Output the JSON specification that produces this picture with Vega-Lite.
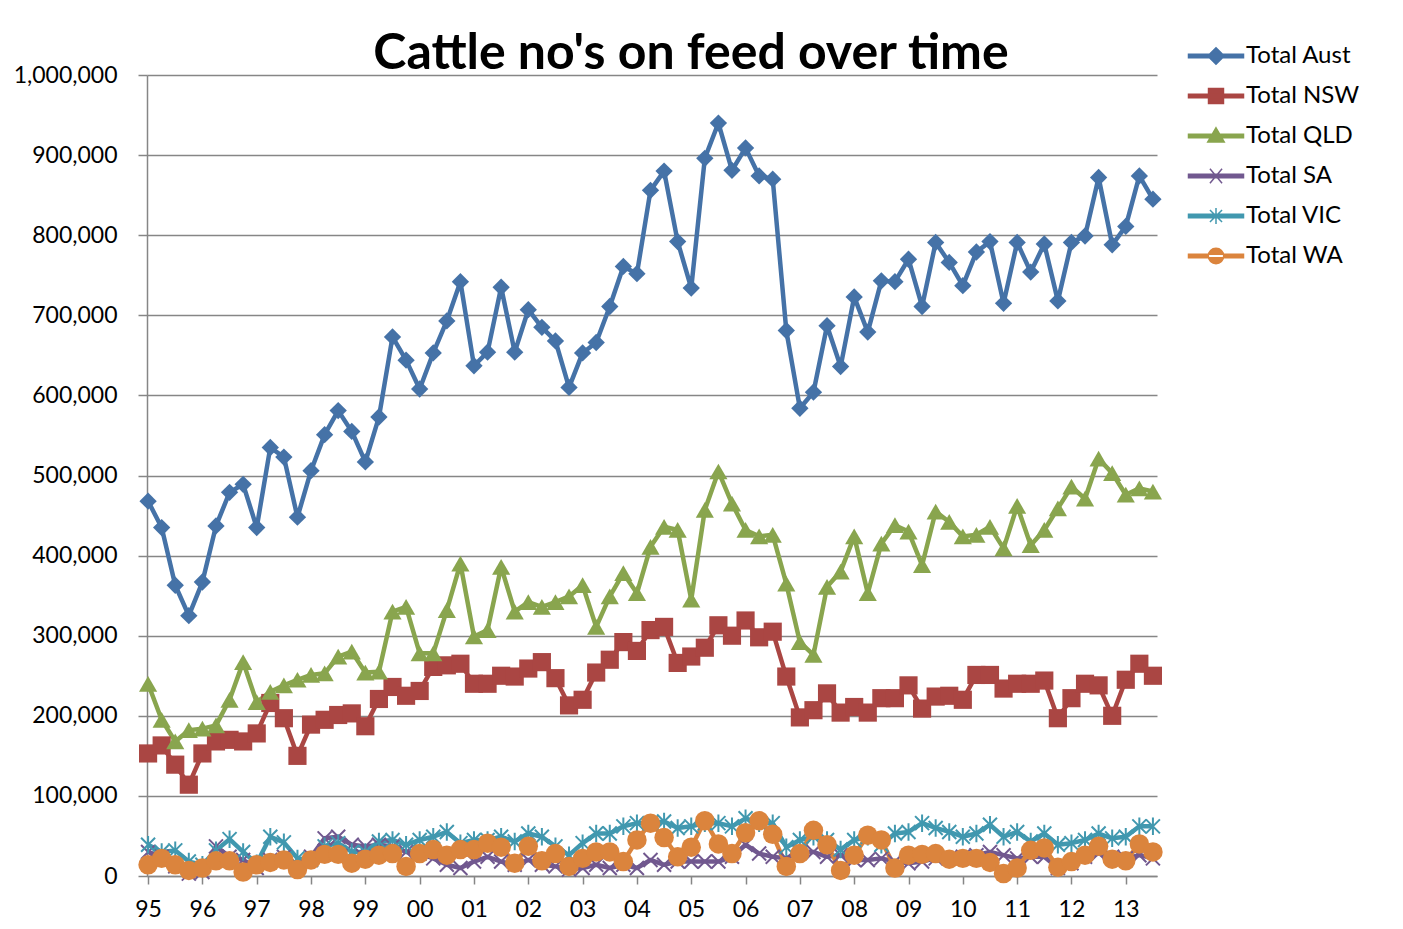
{
  "$schema": "https://vega.github.io/schema/vega-lite/v6.json",
  "width": 1010,
  "height": 801,
  "autosize": {"type": "none"},
  "padding": {"left": 147, "top": 75, "right": 246, "bottom": 53},
  "background": "white",
  "title": {"text": "Cattle no's on feed over time", "font": "Lato", "fontSize": 50, "fontWeight": "bold", "color": "black", "anchor": "middle", "frame": "group", "dx": 39, "dy": 77, "baseline": "alphabetic", "offset": 2},
  "data": {"values": [
    {"t": 1995, "Total Aust": 468000, "Total NSW": 153000, "Total QLD": 240000, "Total SA": 30000, "Total VIC": 39000, "Total WA": 14000},
    {"t": 1995.25, "Total Aust": 435000, "Total NSW": 163000, "Total QLD": 195000, "Total SA": 24000, "Total VIC": 30000, "Total WA": 22000},
    {"t": 1995.5, "Total Aust": 363000, "Total NSW": 139000, "Total QLD": 168000, "Total SA": 12000, "Total VIC": 32000, "Total WA": 14000},
    {"t": 1995.75, "Total Aust": 325000, "Total NSW": 114000, "Total QLD": 182000, "Total SA": 3000, "Total VIC": 18000, "Total WA": 7000},
    {"t": 1996, "Total Aust": 367000, "Total NSW": 153000, "Total QLD": 184000, "Total SA": 5000, "Total VIC": 14000, "Total WA": 10000},
    {"t": 1996.25, "Total Aust": 437000, "Total NSW": 168000, "Total QLD": 188000, "Total SA": 37000, "Total VIC": 32000, "Total WA": 19000},
    {"t": 1996.5, "Total Aust": 479000, "Total NSW": 170000, "Total QLD": 220000, "Total SA": 24000, "Total VIC": 46000, "Total WA": 19000},
    {"t": 1996.75, "Total Aust": 489000, "Total NSW": 168000, "Total QLD": 267000, "Total SA": 20000, "Total VIC": 30000, "Total WA": 5000},
    {"t": 1997, "Total Aust": 435000, "Total NSW": 178000, "Total QLD": 217000, "Total SA": 10000, "Total VIC": 16000, "Total WA": 14000},
    {"t": 1997.25, "Total Aust": 535000, "Total NSW": 216000, "Total QLD": 230000, "Total SA": 20000, "Total VIC": 49000, "Total WA": 17000},
    {"t": 1997.5, "Total Aust": 523000, "Total NSW": 197000, "Total QLD": 238000, "Total SA": 24000, "Total VIC": 42000, "Total WA": 20000},
    {"t": 1997.75, "Total Aust": 448000, "Total NSW": 150000, "Total QLD": 245000, "Total SA": 14000, "Total VIC": 22000, "Total WA": 8000},
    {"t": 1998, "Total Aust": 506000, "Total NSW": 189000, "Total QLD": 251000, "Total SA": 24000, "Total VIC": 20000, "Total WA": 20000},
    {"t": 1998.25, "Total Aust": 551000, "Total NSW": 195000, "Total QLD": 253000, "Total SA": 47000, "Total VIC": 37000, "Total WA": 27000},
    {"t": 1998.5, "Total Aust": 581000, "Total NSW": 201000, "Total QLD": 274000, "Total SA": 49000, "Total VIC": 41000, "Total WA": 27000},
    {"t": 1998.75, "Total Aust": 555000, "Total NSW": 203000, "Total QLD": 280000, "Total SA": 39000, "Total VIC": 30000, "Total WA": 16000},
    {"t": 1999, "Total Aust": 517000, "Total NSW": 187000, "Total QLD": 254000, "Total SA": 37000, "Total VIC": 30000, "Total WA": 21000},
    {"t": 1999.25, "Total Aust": 573000, "Total NSW": 221000, "Total QLD": 255000, "Total SA": 39000, "Total VIC": 43000, "Total WA": 26000},
    {"t": 1999.5, "Total Aust": 673000, "Total NSW": 236000, "Total QLD": 330000, "Total SA": 37000, "Total VIC": 45000, "Total WA": 28000},
    {"t": 1999.75, "Total Aust": 644000, "Total NSW": 225000, "Total QLD": 336000, "Total SA": 30000, "Total VIC": 39000, "Total WA": 12000},
    {"t": 2000, "Total Aust": 608000, "Total NSW": 231000, "Total QLD": 278000, "Total SA": 28000, "Total VIC": 45000, "Total WA": 28000},
    {"t": 2000.25, "Total Aust": 653000, "Total NSW": 261000, "Total QLD": 278000, "Total SA": 22000, "Total VIC": 49000, "Total WA": 33000},
    {"t": 2000.5, "Total Aust": 693000, "Total NSW": 263000, "Total QLD": 332000, "Total SA": 14000, "Total VIC": 55000, "Total WA": 26000},
    {"t": 2000.75, "Total Aust": 742000, "Total NSW": 265000, "Total QLD": 390000, "Total SA": 10000, "Total VIC": 41000, "Total WA": 33000},
    {"t": 2001, "Total Aust": 637000, "Total NSW": 240000, "Total QLD": 299000, "Total SA": 18000, "Total VIC": 45000, "Total WA": 33000},
    {"t": 2001.25, "Total Aust": 654000, "Total NSW": 240000, "Total QLD": 307000, "Total SA": 24000, "Total VIC": 45000, "Total WA": 41000},
    {"t": 2001.5, "Total Aust": 735000, "Total NSW": 250000, "Total QLD": 386000, "Total SA": 18000, "Total VIC": 49000, "Total WA": 36000},
    {"t": 2001.75, "Total Aust": 654000, "Total NSW": 249000, "Total QLD": 330000, "Total SA": 14000, "Total VIC": 43000, "Total WA": 16000},
    {"t": 2002, "Total Aust": 707000, "Total NSW": 259000, "Total QLD": 342000, "Total SA": 20000, "Total VIC": 53000, "Total WA": 37000},
    {"t": 2002.25, "Total Aust": 685000, "Total NSW": 267000, "Total QLD": 336000, "Total SA": 14000, "Total VIC": 49000, "Total WA": 19000},
    {"t": 2002.5, "Total Aust": 668000, "Total NSW": 247000, "Total QLD": 342000, "Total SA": 12000, "Total VIC": 37000, "Total WA": 28000},
    {"t": 2002.75, "Total Aust": 610000, "Total NSW": 213000, "Total QLD": 349000, "Total SA": 8000, "Total VIC": 26000, "Total WA": 12000},
    {"t": 2003, "Total Aust": 653000, "Total NSW": 220000, "Total QLD": 363000, "Total SA": 10000, "Total VIC": 41000, "Total WA": 22000},
    {"t": 2003.25, "Total Aust": 666000, "Total NSW": 254000, "Total QLD": 311000, "Total SA": 14000, "Total VIC": 53000, "Total WA": 30000},
    {"t": 2003.5, "Total Aust": 711000, "Total NSW": 270000, "Total QLD": 349000, "Total SA": 10000, "Total VIC": 53000, "Total WA": 30000},
    {"t": 2003.75, "Total Aust": 761000, "Total NSW": 292000, "Total QLD": 378000, "Total SA": 14000, "Total VIC": 62000, "Total WA": 18000},
    {"t": 2004, "Total Aust": 752000, "Total NSW": 281000, "Total QLD": 353000, "Total SA": 10000, "Total VIC": 66000, "Total WA": 45000},
    {"t": 2004.25, "Total Aust": 856000, "Total NSW": 307000, "Total QLD": 411000, "Total SA": 20000, "Total VIC": 66000, "Total WA": 66000},
    {"t": 2004.5, "Total Aust": 880000, "Total NSW": 311000, "Total QLD": 436000, "Total SA": 14000, "Total VIC": 68000, "Total WA": 48000},
    {"t": 2004.75, "Total Aust": 792000, "Total NSW": 266000, "Total QLD": 432000, "Total SA": 18000, "Total VIC": 60000, "Total WA": 24000},
    {"t": 2005, "Total Aust": 734000, "Total NSW": 274000, "Total QLD": 345000, "Total SA": 18000, "Total VIC": 62000, "Total WA": 36000},
    {"t": 2005.25, "Total Aust": 896000, "Total NSW": 285000, "Total QLD": 457000, "Total SA": 18000, "Total VIC": 66000, "Total WA": 69000},
    {"t": 2005.5, "Total Aust": 940000, "Total NSW": 313000, "Total QLD": 505000, "Total SA": 18000, "Total VIC": 66000, "Total WA": 40000},
    {"t": 2005.75, "Total Aust": 881000, "Total NSW": 300000, "Total QLD": 465000, "Total SA": 24000, "Total VIC": 62000, "Total WA": 28000},
    {"t": 2006, "Total Aust": 909000, "Total NSW": 319000, "Total QLD": 432000, "Total SA": 39000, "Total VIC": 72000, "Total WA": 54000},
    {"t": 2006.25, "Total Aust": 874000, "Total NSW": 298000, "Total QLD": 424000, "Total SA": 28000, "Total VIC": 66000, "Total WA": 69000},
    {"t": 2006.5, "Total Aust": 870000, "Total NSW": 305000, "Total QLD": 426000, "Total SA": 24000, "Total VIC": 66000, "Total WA": 52000},
    {"t": 2006.75, "Total Aust": 681000, "Total NSW": 249000, "Total QLD": 365000, "Total SA": 22000, "Total VIC": 36000, "Total WA": 12000},
    {"t": 2007, "Total Aust": 584000, "Total NSW": 198000, "Total QLD": 292000, "Total SA": 30000, "Total VIC": 45000, "Total WA": 28000},
    {"t": 2007.25, "Total Aust": 604000, "Total NSW": 207000, "Total QLD": 276000, "Total SA": 30000, "Total VIC": 49000, "Total WA": 57000},
    {"t": 2007.5, "Total Aust": 687000, "Total NSW": 228000, "Total QLD": 361000, "Total SA": 24000, "Total VIC": 45000, "Total WA": 39000},
    {"t": 2007.75, "Total Aust": 636000, "Total NSW": 204000, "Total QLD": 380000, "Total SA": 26000, "Total VIC": 33000, "Total WA": 7000},
    {"t": 2008, "Total Aust": 723000, "Total NSW": 211000, "Total QLD": 424000, "Total SA": 20000, "Total VIC": 45000, "Total WA": 26000},
    {"t": 2008.25, "Total Aust": 679000, "Total NSW": 204000, "Total QLD": 353000, "Total SA": 20000, "Total VIC": 49000, "Total WA": 51000},
    {"t": 2008.5, "Total Aust": 743000, "Total NSW": 222000, "Total QLD": 415000, "Total SA": 22000, "Total VIC": 39000, "Total WA": 45000},
    {"t": 2008.75, "Total Aust": 742000, "Total NSW": 222000, "Total QLD": 438000, "Total SA": 18000, "Total VIC": 53000, "Total WA": 10000},
    {"t": 2009, "Total Aust": 770000, "Total NSW": 238000, "Total QLD": 430000, "Total SA": 16000, "Total VIC": 55000, "Total WA": 26000},
    {"t": 2009.25, "Total Aust": 711000, "Total NSW": 209000, "Total QLD": 388000, "Total SA": 18000, "Total VIC": 66000, "Total WA": 27000},
    {"t": 2009.5, "Total Aust": 791000, "Total NSW": 224000, "Total QLD": 455000, "Total SA": 22000, "Total VIC": 60000, "Total WA": 28000},
    {"t": 2009.75, "Total Aust": 766000, "Total NSW": 225000, "Total QLD": 442000, "Total SA": 22000, "Total VIC": 55000, "Total WA": 21000},
    {"t": 2010, "Total Aust": 737000, "Total NSW": 220000, "Total QLD": 424000, "Total SA": 24000, "Total VIC": 49000, "Total WA": 22000},
    {"t": 2010.25, "Total Aust": 779000, "Total NSW": 251000, "Total QLD": 426000, "Total SA": 26000, "Total VIC": 53000, "Total WA": 22000},
    {"t": 2010.5, "Total Aust": 792000, "Total NSW": 251000, "Total QLD": 436000, "Total SA": 30000, "Total VIC": 64000, "Total WA": 17000},
    {"t": 2010.75, "Total Aust": 715000, "Total NSW": 234000, "Total QLD": 409000, "Total SA": 26000, "Total VIC": 49000, "Total WA": 3000},
    {"t": 2011, "Total Aust": 791000, "Total NSW": 240000, "Total QLD": 462000, "Total SA": 22000, "Total VIC": 55000, "Total WA": 10000},
    {"t": 2011.25, "Total Aust": 754000, "Total NSW": 240000, "Total QLD": 413000, "Total SA": 24000, "Total VIC": 43000, "Total WA": 32000},
    {"t": 2011.5, "Total Aust": 789000, "Total NSW": 244000, "Total QLD": 432000, "Total SA": 24000, "Total VIC": 53000, "Total WA": 35000},
    {"t": 2011.75, "Total Aust": 718000, "Total NSW": 197000, "Total QLD": 459000, "Total SA": 10000, "Total VIC": 39000, "Total WA": 11000},
    {"t": 2012, "Total Aust": 791000, "Total NSW": 222000, "Total QLD": 486000, "Total SA": 16000, "Total VIC": 41000, "Total WA": 18000},
    {"t": 2012.25, "Total Aust": 799000, "Total NSW": 240000, "Total QLD": 471000, "Total SA": 24000, "Total VIC": 45000, "Total WA": 26000},
    {"t": 2012.5, "Total Aust": 872000, "Total NSW": 238000, "Total QLD": 521000, "Total SA": 28000, "Total VIC": 53000, "Total WA": 37000},
    {"t": 2012.75, "Total Aust": 788000, "Total NSW": 200000, "Total QLD": 503000, "Total SA": 24000, "Total VIC": 47000, "Total WA": 21000},
    {"t": 2013, "Total Aust": 811000, "Total NSW": 245000, "Total QLD": 476000, "Total SA": 22000, "Total VIC": 49000, "Total WA": 19000},
    {"t": 2013.25, "Total Aust": 874000, "Total NSW": 265000, "Total QLD": 484000, "Total SA": 26000, "Total VIC": 62000, "Total WA": 40000},
    {"t": 2013.5, "Total Aust": 845000, "Total NSW": 250000, "Total QLD": 480000, "Total SA": 22000, "Total VIC": 62000, "Total WA": 30000}
  ]},
  "transform": [{"fold": ["Total Aust", "Total NSW", "Total QLD", "Total SA", "Total VIC", "Total WA"], "as": ["series", "value"]}],
  "encoding": {
    "x": {"field": "t", "type": "quantitative", "scale": {"domain": [1994.98, 2013.575], "nice": false, "zero": false},
      "axis": {"values": [1995, 1996, 1997, 1998, 1999, 2000, 2001, 2002, 2003, 2004, 2005, 2006, 2007, 2008, 2009, 2010, 2011, 2012, 2013],
        "labelExpr": "slice('0' + (round(datum.value) % 100), -2)", "grid": false, "title": null,
        "domainColor": "#868686", "domainWidth": 1.5, "tickColor": "#868686", "tickWidth": 1.5, "tickSize": 8,
        "labelFont": "Lato", "labelFontSize": 23, "labelColor": "black", "labelPadding": 14, "labelFlush": false, "labelOverlap": false}},
    "y": {"field": "value", "type": "quantitative", "scale": {"domain": [0, 1000000], "nice": false},
      "axis": {"values": [0, 100000, 200000, 300000, 400000, 500000, 600000, 700000, 800000, 900000, 1000000], "format": ",d",
        "grid": true, "gridColor": "#868686", "gridWidth": 1.5, "title": null,
        "domainColor": "#868686", "domainWidth": 1.5, "tickColor": "#868686", "tickWidth": 1.5, "tickSize": 9,
        "labelFont": "Lato", "labelFontSize": 23, "labelColor": "black", "labelPadding": 21, "labelOverlap": false, "labelFlush": false}}
  },
  "layer": [
    {"mark": {"type": "line", "strokeWidth": 4.5, "strokeJoin": "round"},
     "encoding": {"color": {"field": "series", "type": "nominal",
       "scale": {"domain": ["Total Aust", "Total NSW", "Total QLD", "Total SA", "Total VIC", "Total WA"], "range": ["#4572A7", "#AA4643", "#89A54E", "#71588F", "#4198AF", "#DB843D"]},
       "legend": {"orient": "none", "legendX": 1057, "legendY": -31, "title": null, "padding": 0,
         "labelFont": "Lato", "labelFontSize": 24, "labelColor": "black", "symbolSize": 484, "labelOffset": 18, "rowPadding": 16,
         "encode": {"symbols": {"update": {
           "shape": {"signal": "datum.value === 'Total Aust' ? 'M-2.5,-0.17L2.5,-0.17L2.5,0.17L-2.5,0.17Z M0,-0.75L0.75,0L0,0.75L-0.75,0Z' : datum.value === 'Total NSW' ? 'M-2.5,-0.17L2.5,-0.17L2.5,0.17L-2.5,0.17Z M-0.68,-0.68L0.68,-0.68L0.68,0.68L-0.68,0.68Z' : datum.value === 'Total QLD' ? 'M-2.5,-0.17L2.5,-0.17L2.5,0.17L-2.5,0.17Z M0,-0.75L0.75,0.55L-0.75,0.55Z' : datum.value === 'Total SA' ? 'M-2.5,-0.17L2.5,-0.17L2.5,0.17L-2.5,0.17Z M-0.55,-0.65L0.55,0.65 M-0.55,0.65L0.55,-0.65' : datum.value === 'Total VIC' ? 'M-2.5,-0.17L2.5,-0.17L2.5,0.17L-2.5,0.17Z M-0.55,-0.55L0.55,0.55 M-0.55,0.55L0.55,-0.55 M0,-0.72L0,0.72' : 'M-2.5,-0.17L2.5,-0.17L2.5,0.17L-2.5,0.17Z M-0.7,0A0.7,0.7 0 1,0 0.7,0A0.7,0.7 0 1,0 -0.7,0Z'"},
           "fill": {"scale": "color", "field": "value"},
           "stroke": {"scale": "color", "field": "value"},
           "strokeWidth": {"value": 1.5},
           "opacity": {"value": 1}}}}}}}},
    {"transform": [{"filter": "datum.series === 'Total SA'"}],
     "mark": {"type": "point", "shape": "M-1,-1L1,1M-1,1L1,-1", "size": 196, "filled": false, "color": "#71588F", "strokeWidth": 2, "opacity": 1}},
    {"transform": [{"filter": "datum.series === 'Total VIC'"}],
     "mark": {"type": "point", "shape": "M-1,-1L1,1M-1,1L1,-1M0,-1.25L0,1.25", "size": 196, "filled": false, "color": "#4198AF", "strokeWidth": 2, "opacity": 1}},
    {"transform": [{"filter": "datum.series === 'Total Aust'"}],
     "mark": {"type": "point", "shape": "diamond", "size": 300, "filled": true, "color": "#4572A7", "opacity": 1}},
    {"transform": [{"filter": "datum.series === 'Total NSW'"}],
     "mark": {"type": "point", "shape": "square", "size": 330, "filled": true, "color": "#AA4643", "opacity": 1}},
    {"transform": [{"filter": "datum.series === 'Total QLD'"}],
     "mark": {"type": "point", "shape": "triangle-up", "size": 330, "filled": true, "color": "#89A54E", "opacity": 1}},
    {"transform": [{"filter": "datum.series === 'Total WA'"}],
     "mark": {"type": "point", "shape": "circle", "size": 380, "filled": true, "color": "#DB843D", "opacity": 1}}
  ],
  "config": {"view": {"stroke": null}}
}
